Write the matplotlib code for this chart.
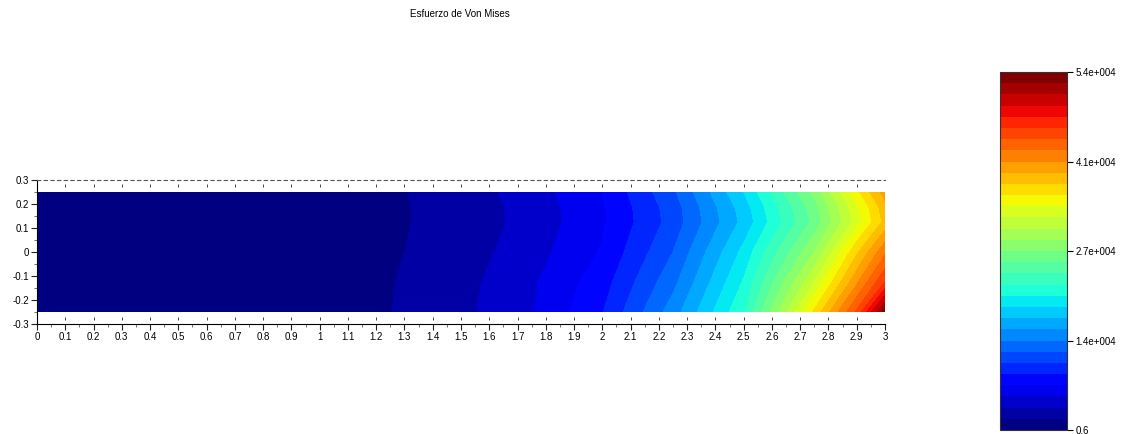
import numpy as np
import matplotlib
matplotlib.use('Agg')
import matplotlib.pyplot as plt

plt.rcParams['font.family'] = ['Liberation Sans', 'DejaVu Sans']

# nodes of the beam (x along length, y through depth)
x_nodes = [0, 0.25, 0.5, 0.75, 1.0, 1.25, 1.5, 1.75, 2.0, 2.25, 2.5, 2.75, 2.9, 3.0]
y_nodes = [-0.25, -0.125, 0, 0.125, 0.1875, 0.25]

# von Mises stress, one list per row of nodes
vm_bottom = [507, 591, 676, 844, 1148, 1654, 2937, 4894, 8354, 14344, 21769, 35776, 44213, 53157]
vm_lower = [422, 507, 591, 760, 1047, 1604, 2785, 4810, 7679, 12994, 20419, 32063, 40163, 45563]
vm_mid = [338, 422, 507, 676, 929, 1469, 2532, 4304, 6919, 11813, 19069, 28688, 36788, 41851]
vm_upper = [254, 338, 422, 591, 844, 1401, 2363, 3966, 6497, 10801, 17382, 25819, 32907, 37632]
vm_near_top = [288, 372, 456, 625, 861, 1401, 2363, 4017, 6548, 10969, 17719, 26326, 33413, 38139]
vm_top = [338, 422, 507, 676, 929, 1435, 2447, 4219, 6751, 11476, 18563, 27507, 34932, 39657]

vmin, vmax = 0.6, 54000.0
n_colors = 32
cbar_ticks = [0.6, 13500, 27000, 40500, 54000]
cbar_labels = ['0.6', '1.4e+004', '2.7e+004', '4.1e+004', '5.4e+004']
x_ticks = [round(0.1 * i, 1) for i in range(31)]
y_ticks = [-0.3, -0.2, -0.1, 0, 0.1, 0.2, 0.3]

X, Y = np.meshgrid(x_nodes, y_nodes)
Z = np.array([vm_bottom, vm_lower, vm_mid, vm_upper, vm_near_top, vm_top])

fig = plt.figure(figsize=(11.32, 4.34), dpi=100)
ax = fig.add_axes([37 / 1132, 1 - 324 / 434, 848 / 1132, 144 / 434])

levels = np.linspace(vmin, vmax, n_colors + 1)
cmap = plt.get_cmap('jet', n_colors)
cs = ax.contourf(X, Y, Z, levels=levels, cmap=cmap)

ax.set_xlim(0, 3)
ax.set_ylim(-0.3, 0.3)
ax.set_xticks(x_ticks)
ax.set_xticklabels([f'{v:g}' for v in x_ticks])
ax.set_yticks(y_ticks)
ax.set_yticklabels([f'{v:g}' for v in y_ticks])
ax.set_xticks(np.arange(0.05, 3.0, 0.1), minor=True)
ax.set_yticks([-0.25, -0.15, -0.05, 0.05, 0.15, 0.25], minor=True)
ax.tick_params(which='major', labelsize=7, length=4, width=0.8, pad=1.5, color='#222222')
ax.tick_params(which='minor', length=2.5, width=0.6, color='#555555')

ax.spines['right'].set_visible(False)
ax.spines['top'].set_linestyle((0, (3, 3)))
ax.spines['top'].set_color('#555555')
ax.spines['top'].set_linewidth(0.8)
ax.spines['left'].set_linewidth(0.8)
ax.spines['bottom'].set_linewidth(0.8)

# small marks just inside the box, as in the original
ax.vlines(x_ticks[1:-1], 0.272, 0.285, colors='#444444', linewidth=0.7)
ax.vlines(x_ticks[1:-1], -0.285, -0.272, colors='#444444', linewidth=0.7)

fig.text(0.406, 0.967, 'Esfuerzo de Von Mises', ha='center', va='center', fontsize=7)

cax = fig.add_axes([1000 / 1132, 1 - 430 / 434, 67 / 1132, 358 / 434])
cb = fig.colorbar(cs, cax=cax, ticks=cbar_ticks)
cb.ax.set_yticklabels(cbar_labels)
cb.ax.tick_params(labelsize=7, length=4, width=0.8, pad=2)
cb.outline.set_linewidth(0.8)
cb.outline.set_edgecolor('#333333')
cb.ax.minorticks_off()

fig.savefig('out.png', dpi=100)
